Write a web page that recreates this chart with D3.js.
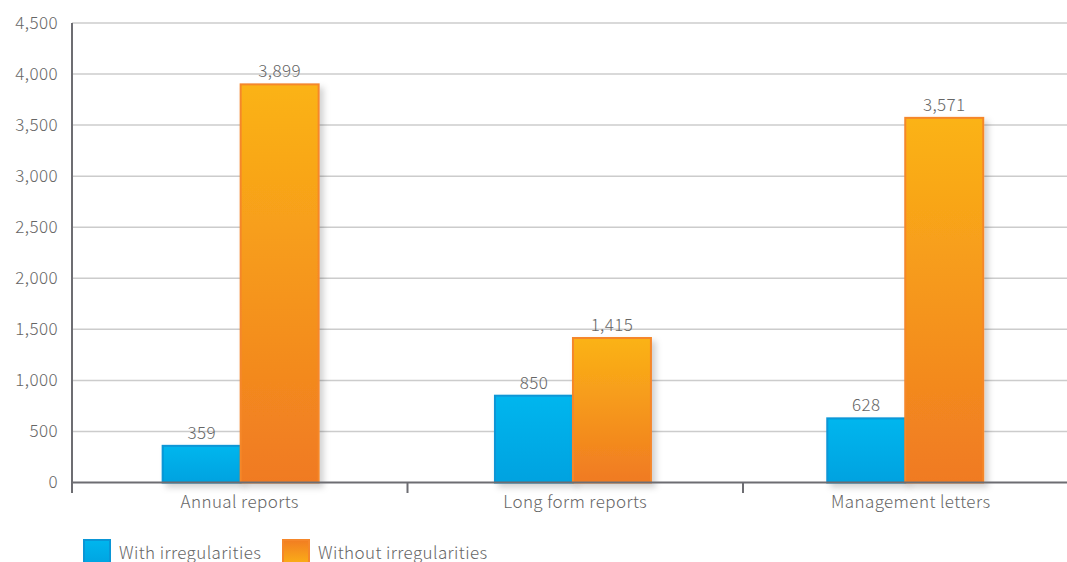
<!DOCTYPE html>
<html><head><meta charset="utf-8">
<script src="https://cdn.jsdelivr.net/npm/d3@7"></script>
<style>body{margin:0;background:#fff;}svg{display:block;font-family:"Noto Sans CJK JP","Noto Sans",sans-serif;font-weight:300;letter-spacing:0.4px;}</style>
</head><body>
<svg id="c" width="1067" height="562"></svg>
<script>
const categories = ["Annual reports","Long form reports","Management letters"];
const seriesNames = ["With irregularities","Without irregularities"];
const withIrr = [359, 850, 628];
const withoutIrr = [3899, 1415, 3571];
const yTicks = [0,500,1000,1500,2000,2500,3000,3500,4000,4500];

const svg = d3.select("#c");
const defs = svg.append("defs");
const gB = defs.append("linearGradient").attr("id","gB").attr("x1",0).attr("y1",0).attr("x2",0).attr("y2",1);
gB.append("stop").attr("offset","0%").attr("stop-color","#00b6ee");
gB.append("stop").attr("offset","100%").attr("stop-color","#00a2e0");
const gO = defs.append("linearGradient").attr("id","gO").attr("x1",0).attr("y1",0).attr("x2",0).attr("y2",1);
gO.append("stop").attr("offset","0%").attr("stop-color","#fbb316");
gO.append("stop").attr("offset","100%").attr("stop-color","#f07a22");
const gOL = defs.append("linearGradient").attr("id","gOL").attr("x1",0).attr("y1",0).attr("x2",0).attr("y2",1);
gOL.append("stop").attr("offset","0%").attr("stop-color","#f27d22");
gOL.append("stop").attr("offset","100%").attr("stop-color","#fbb316");
const f = defs.append("filter").attr("id","sh").attr("x","-20%").attr("y","-20%").attr("width","150%").attr("height","150%");
f.append("feDropShadow").attr("dx",4).attr("dy",4).attr("stdDeviation",3).attr("flood-color","#000").attr("flood-opacity",0.18);

const mLeft = 72, mTop = 23, mBottom = 482.5;
const y = d3.scaleLinear().domain([0,4500]).range([mBottom, mTop]);
const x = d3.scaleBand().domain(categories).range([mLeft, mLeft + 335.5*3]).padding(0);
const xBars = d3.scaleBand().domain(categories).range([74.5, 74.5 + 332.3*3]).padding(0);
const barW = 78;
const fs = 17, txt = "#666";

// gridlines
svg.append("g").selectAll("line").data(yTicks.filter(d=>d>0)).join("line")
  .attr("x1",mLeft).attr("x2",1067).attr("y1",d=>y(d)).attr("y2",d=>y(d))
  .attr("stroke","#cccccc").attr("stroke-width",1.5);

// y axis labels
svg.append("g").selectAll("text").data(yTicks).join("text")
  .attr("x",mLeft-14).attr("y",d=>y(d)).attr("dy","0.35em").attr("text-anchor","end")
  .attr("font-size",fs).attr("fill",txt).text(d=>d3.format(",")(d));

// bars
const g = svg.append("g");
categories.forEach((c,i)=>{
  const cx = xBars(c) + xBars.bandwidth()/2;
  g.append("rect").attr("x",cx-barW).attr("y",y(withIrr[i])).attr("width",barW).attr("height",mBottom-y(withIrr[i]))
    .attr("fill","url(#gB)").attr("stroke","#0a96d6").attr("stroke-width",2).attr("filter","url(#sh)");
  g.append("rect").attr("x",cx).attr("y",y(withoutIrr[i])).attr("width",barW).attr("height",mBottom-y(withoutIrr[i]))
    .attr("fill","url(#gO)").attr("stroke","#f5872a").attr("stroke-width",2).attr("filter","url(#sh)");
  g.append("text").attr("x",cx-barW/2).attr("y",y(withIrr[i])-7).attr("text-anchor","middle")
    .attr("font-size",fs).attr("fill",txt).text(d3.format(",")(withIrr[i]));
  g.append("text").attr("x",cx+barW/2).attr("y",y(withoutIrr[i])-7).attr("text-anchor","middle")
    .attr("font-size",fs).attr("fill",txt).text(d3.format(",")(withoutIrr[i]));
});

// axes lines
svg.append("line").attr("x1",mLeft).attr("x2",1067).attr("y1",mBottom).attr("y2",mBottom).attr("stroke","#6d6d72").attr("stroke-width",2);
svg.append("line").attr("x1",mLeft).attr("x2",mLeft).attr("y1",mTop).attr("y2",493).attr("stroke","#6d6d72").attr("stroke-width",2);
svg.append("g").selectAll("line").data(categories.slice(1)).join("line")
  .attr("x1",d=>x(d)).attr("x2",d=>x(d)).attr("y1",mBottom).attr("y2",493).attr("stroke","#6d6d72").attr("stroke-width",2);
svg.append("g").selectAll("text").data(categories).join("text")
  .attr("x",d=>x(d)+x.bandwidth()/2).attr("y",508).attr("text-anchor","middle")
  .attr("font-size",fs).attr("fill",txt).text(d=>d);

// legend
const leg = [{n:seriesNames[0],fill:"url(#gB)",stroke:"#0a96d6",x:84},{n:seriesNames[1],fill:"url(#gOL)",stroke:"#f5872a",x:283}];
const lg = svg.append("g").selectAll("g").data(leg).join("g").attr("transform",d=>`translate(${d.x},539)`);
lg.append("rect").attr("x",0).attr("y",1).attr("width",26).attr("height",26).attr("fill",d=>d.fill).attr("stroke",d=>d.stroke).attr("stroke-width",2);
lg.append("text").attr("x",35).attr("y",19.5).attr("font-size",fs).attr("fill",txt).text(d=>d.n);
</script>
</body></html>
